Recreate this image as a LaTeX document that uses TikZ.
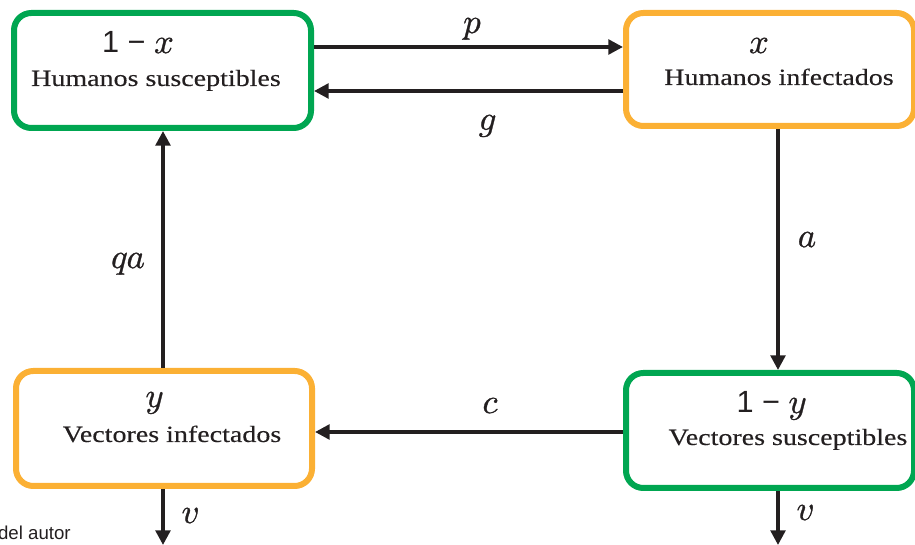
\RequirePackage{fix-cm}
\documentclass[tikz,border=0pt]{standalone}
\usepackage{fontspec}
\setmainfont{Liberation Serif}[FakeStretch=1.2,FakeBold=0.3]
\setsansfont{Liberation Sans}
\newfontfamily\symfont{Latin Modern Math}[FakeBold=0.9]
\usetikzlibrary{arrows.meta}
\definecolor{boxgreen}{RGB}{0,166,81}
\definecolor{boxorange}{RGB}{251,176,52}
\definecolor{ink}{RGB}{35,31,32}
\begin{document}
\begin{tikzpicture}[x=0.75pt,y=-0.75pt,
  box/.style={draw,line width=4.5pt,rounded corners=13pt,inner sep=0pt},
  arr/.style={draw=ink,line width=2.6pt,-{Triangle[length=11pt,width=11pt]}},
  lbl/.style={text=ink,font=\fontsize{17.5}{20}\selectfont,anchor=base,inner sep=0pt},
  sym/.style={text=ink,font=\symfont\fontsize{26}{30}\selectfont,anchor=base,inner sep=0pt},
  one/.style={text=ink,font=\sffamily\fontsize{23}{28}\selectfont,anchor=base,inner sep=0pt}]
\useasboundingbox (0,0) rectangle (915,545);

% compartments
\node[box,draw=boxgreen,minimum width=222.75pt,minimum height=86.25pt] (tl) at (162.5,70.5) {};
\node[box,draw=boxorange,minimum width=216pt,minimum height=84.75pt] (tr) at (770,69.5) {};
\node[box,draw=boxorange,minimum width=222pt,minimum height=86.25pt] (bl) at (164,428.5) {};
\node[box,draw=boxgreen,minimum width=216pt,minimum height=86.25pt] (br) at (770,430.5) {};

% compartment texts
\node[one] (tlv) at (138,53) {1 − {\symfont\fontsize{26}{30}\selectfont 𝑥}};
\node[lbl] (tlt) at (156,86) {Humanos susceptibles};
\node[sym] (trv) at (759,53) {𝑥};
\node[lbl] (trt) at (779,85) {Humanos infectados};
\node[sym] (blv) at (154,407) {𝑦};
\node[lbl] (blt) at (172,442) {Vectores infectados};
\node[one] (brv) at (771,413) {1 − {\symfont\fontsize{26}{30}\selectfont 𝑦}};
\node[lbl] (brt) at (788,445) {Vectores susceptibles};

% rows and columns of the connectors
\coordinate (rowP) at (0,47);
\coordinate (rowG) at (0,91);
\coordinate (rowC) at (0,432);
\coordinate (colL) at (163,0);
\coordinate (colR) at (778,0);
\coordinate (botL) at (163,545);
\coordinate (botR) at (778,545);

% flows
\draw[arr] (tl.east |- rowP) -- (tr.west |- rowP);
\draw[arr] (tr.west |- rowG) -- (tl.east |- rowG);
\draw[arr] (tr.south -| colR) -- (br.north -| colR);
\draw[arr] (br.west |- rowC) -- (bl.east |- rowC);
\draw[arr] (bl.north -| colL) -- (tl.south -| colL);
\draw[arr] (bl.south -| colL) -- (botL);
\draw[arr] (br.south -| colR) -- (botR);

% rates
\node[sym] (lp) at (472,33) {𝑝};
\node[sym] (lg) at (487,130) {𝑔};
\node[sym] (la) at (807,247) {𝑎};
\node[sym] (lqa) at (128,268) {𝑞𝑎};
\node[sym] (lc) at (490,413) {𝑐};
\node[sym] (lvl) at (190,523) {𝑣};
\node[sym] (lvr) at (805,520) {𝑣};

% source note
\node[text=ink,font=\sffamily\fontsize{14}{16}\selectfont,anchor=base east,inner sep=0pt] (src) at (71,539) {del autor};
\end{tikzpicture}
\end{document}
